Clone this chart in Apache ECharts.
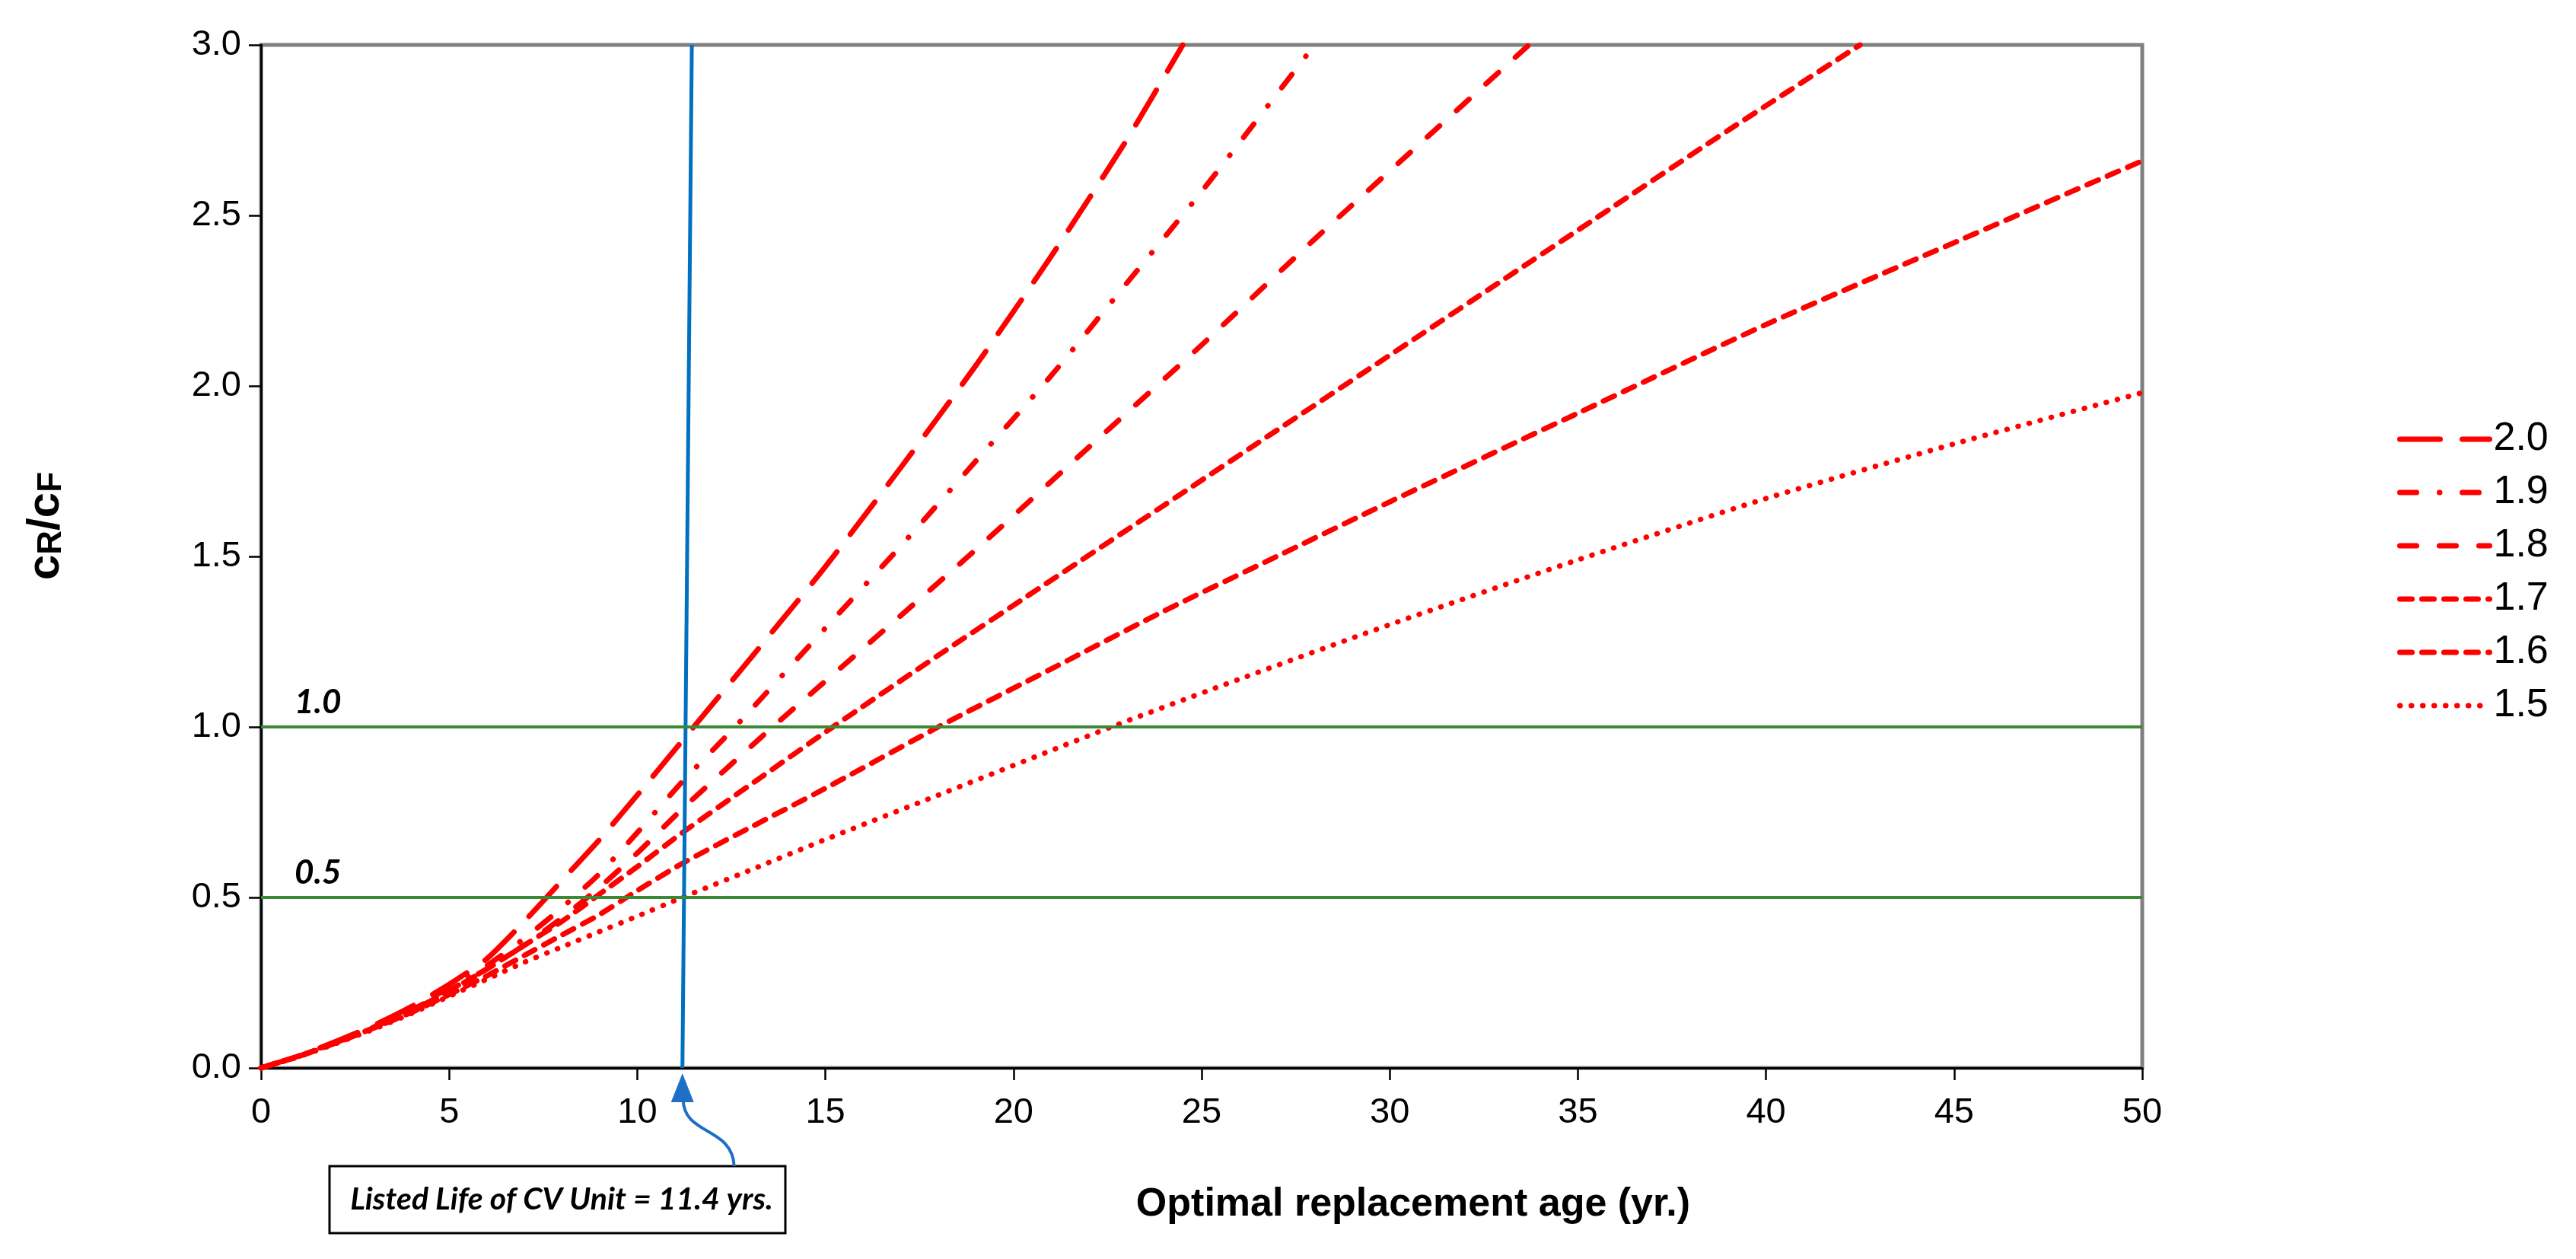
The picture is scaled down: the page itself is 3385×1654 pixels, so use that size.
<!DOCTYPE html>
<html><head><meta charset="utf-8">
<script src="https://cdn.jsdelivr.net/npm/echarts@6/dist/echarts.min.js"></script>
<style>html,body{margin:0;padding:0;background:#fff}#c{width:3385px;height:1654px}</style>
</head><body><div id="c"></div>
<script>
// ---- data ----
const seriesNames = ['2.0', '1.9', '1.8', '1.7', '1.6', '1.5'];
const age20 = [0, 1, 2, 3, 4, 5, 6, 7, 8, 9, 10, 11.5, 13, 15, 17, 19, 21, 23, 24.5];
const ratio20 = [0, 0.035, 0.078, 0.125, 0.18, 0.245, 0.32, 0.43, 0.55, 0.67, 0.80, 1.0, 1.2, 1.47, 1.76, 2.06, 2.38, 2.72, 3.0];
const age19 = [0, 1, 2, 3, 4, 5, 6, 7, 8, 9, 10, 11.2, 12.6, 15, 17, 19, 21, 23, 25, 28];
const ratio19 = [0, 0.035, 0.077, 0.123, 0.175, 0.235, 0.30, 0.38, 0.47, 0.57, 0.69, 0.84, 1.0, 1.29, 1.53, 1.78, 2.03, 2.3, 2.57, 3.0];
const age18 = [0, 1, 2, 3, 4, 5, 6, 7, 8, 9, 10, 11.2, 13.6, 16, 19, 22, 25, 28, 31, 33.7];
const ratio18 = [0, 0.034, 0.075, 0.12, 0.17, 0.228, 0.29, 0.36, 0.44, 0.53, 0.63, 0.76, 1.0, 1.23, 1.52, 1.82, 2.12, 2.43, 2.73, 3.0];
const age17 = [0, 1, 2, 3, 4, 5, 6, 7, 8, 9, 10, 11.2, 13, 15.2, 18, 21, 24, 27, 30, 33, 36, 39, 42.5];
const ratio17 = [0, 0.034, 0.074, 0.118, 0.168, 0.225, 0.29, 0.36, 0.43, 0.51, 0.59, 0.69, 0.83, 1.0, 1.21, 1.43, 1.65, 1.87, 2.09, 2.31, 2.53, 2.75, 3.0];
const age16 = [0, 1, 2, 3, 4, 5, 6, 7, 8, 9, 10, 11.2, 13, 15, 18, 21, 24, 27, 30, 35, 40, 45, 50];
const ratio16 = [0, 0.034, 0.074, 0.117, 0.163, 0.215, 0.27, 0.33, 0.39, 0.45, 0.52, 0.60, 0.705, 0.82, 1.0, 1.17, 1.34, 1.5, 1.66, 1.92, 2.18, 2.42, 2.66];
const age15 = [0, 1, 2, 3, 4, 5, 6, 7, 8, 9, 10, 11.2, 13, 15, 18, 22.6, 26, 30, 35, 40, 45, 50];
const ratio15 = [0, 0.033, 0.072, 0.114, 0.16, 0.21, 0.26, 0.31, 0.355, 0.40, 0.445, 0.50, 0.58, 0.67, 0.80, 1.0, 1.14, 1.30, 1.49, 1.67, 1.83, 1.98];
const thresholdValues = [1.0, 0.5];
const listedLifeAge = [11.2, 11.45];
const listedLifeRatio = [0, 3.0];
const listedLifeText = 'Listed Life of CV Unit = 11.4 yrs.';
const xAxisRange = [0, 50, 5];
const yAxisRange = [0, 3, 0.5];
const xTitle = 'Optimal replacement age (yr.)';

// ---- styles ----
const RED = '#ff0000';
const dashes = [[53, 29], [22, 30, 0.5, 29.5], [22, 30], [16, 13], [16, 13], [0.5, 14.5]];
const ages = [age20, age19, age18, age17, age16, age15];
const ratios = [ratio20, ratio19, ratio18, ratio17, ratio16, ratio15];
const zip = (a, b) => a.map((v, i) => [v, b[i]]);

const chart = echarts.init(document.getElementById('c'), null, {renderer: 'canvas'});
const AX = 'Liberation Sans, Arial, sans-serif';

const redSeries = seriesNames.map((n, i) => ({
  name: n, type: 'line', data: zip(ages[i], ratios[i]),
  symbol: 'none', showSymbol: false, smooth: 0.2, clip: true, z: 3,
  lineStyle: {color: RED, width: 7, type: dashes[i], cap: 'round', join: 'round'},
  itemStyle: {color: RED}
}));

const option = {
  backgroundColor: '#fff',
  animation: false,
  grid: {left: 343, right: 570, top: 59, bottom: 251, show: true, borderColor: '#808080', borderWidth: 5, backgroundColor: 'transparent'},
  xAxis: {
    type: 'value', min: xAxisRange[0], max: xAxisRange[1], interval: xAxisRange[2],
    axisLine: {show: true, onZero: false, lineStyle: {color: '#000', width: 3}},
    axisTick: {show: true, length: 16, lineStyle: {color: '#000', width: 2.5}},
    splitLine: {show: false},
    axisLabel: {fontSize: 47, fontFamily: AX, color: '#000', margin: 36},
    name: xTitle, nameLocation: 'middle', nameGap: 154,
    nameTextStyle: {fontSize: 52, fontWeight: 'bold', fontFamily: AX, color: '#000', padding: [0, 0, 0, 556]}
  },
  yAxis: {
    type: 'value', min: yAxisRange[0], max: yAxisRange[1], interval: yAxisRange[2],
    axisLine: {show: true, onZero: false, lineStyle: {color: '#000', width: 3}},
    axisTick: {show: true, length: 16, lineStyle: {color: '#000', width: 2.5}},
    splitLine: {show: false},
    axisLabel: {fontSize: 47, fontFamily: AX, color: '#000', margin: 26, formatter: v => v.toFixed(1)},
    name: '{c|c}{s|R}{c|/c}{s|F}', nameLocation: 'middle', nameGap: 253, nameRotate: 90,
    nameTextStyle: {
      fontFamily: AX, color: '#000', padding: [0, 0, 0, 80],
      rich: {
        c: {fontSize: 60, fontWeight: 'bold', fontFamily: AX, verticalAlign: 'bottom', lineHeight: 60},
        s: {fontSize: 44, fontWeight: 'bold', fontFamily: AX, verticalAlign: 'bottom', lineHeight: 16}
      }
    }
  },
  legend: {
    orient: 'vertical', left: 3145, top: 546, itemWidth: 118, itemHeight: 14, itemGap: 18,
    data: seriesNames, selectedMode: false,
    lineStyle: {width: 7},
    itemStyle: {opacity: 0, borderWidth: 0},
    textStyle: {fontSize: 52, fontFamily: AX, color: '#000'}
  },
  series: [
    ...redSeries,
    {
      name: 'thresholds', type: 'line', data: [], z: 2,
      markLine: {
        silent: true, symbol: 'none', animation: false,
        lineStyle: {color: '#3a8a35', width: 4, type: 'solid'},
        label: {show: true, position: 'insideStartTop', formatter: p => Number(p.value).toFixed(1),
          fontFamily: 'Lato, Open Sans, sans-serif', fontStyle: 'italic', fontWeight: 'bold', fontSize: 44, color: '#000', distance: [44, 10]},
        data: thresholdValues.map(v => ({yAxis: v}))
      }
    },
    {
      name: 'listed life', type: 'line', data: zip(listedLifeAge, listedLifeRatio), z: 4,
      symbol: 'none', showSymbol: false,
      lineStyle: {color: '#0070C0', width: 5, type: 'solid'}
    }
  ]
};
chart.setOption(option);

// annotation: box + curved arrow pointing at the listed life on the x axis
const tip = chart.convertToPixel({gridIndex: 0}, [listedLifeAge[0], 0]);
const tx = tip[0], ty = tip[1] + 7;
const ARW = '#1f6fc5';
chart.setOption({
  graphic: [
    {type: 'rect', shape: {x: 433, y: 1532, width: 599, height: 88}, style: {fill: '#fff', stroke: '#000', lineWidth: 3}, z: 10},
    {type: 'text', x: 738, y: 1576, style: {text: listedLifeText, font: 'italic bold 41px Lato, Open Sans, sans-serif', fill: '#000', align: 'center', verticalAlign: 'middle'}, z: 11},
    {type: 'bezierCurve', shape: {x1: tx + 1, y1: ty + 34, cpx1: tx + 1, cpy1: ty + 82, cpx2: tx + 66, cpy2: ty + 70, x2: tx + 68, y2: 1532}, style: {stroke: ARW, lineWidth: 4, fill: null}, z: 10},
    {type: 'polygon', shape: {points: [[tx, ty], [tx - 15, ty + 38], [tx + 15, ty + 38]]}, style: {fill: ARW}, z: 10}
  ]
});
</script>
</body></html>
